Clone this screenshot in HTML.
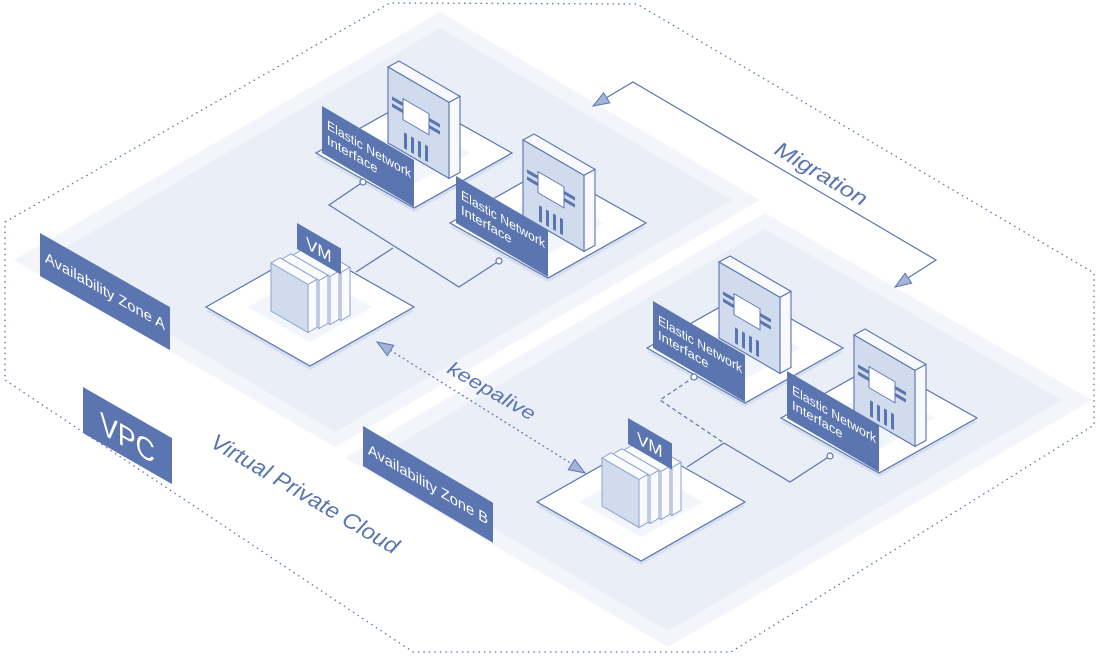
<!DOCTYPE html>
<html><head><meta charset="utf-8"><style>
html,body{margin:0;padding:0;background:#fff;}
svg{display:block;}
text{font-family:"Liberation Sans",sans-serif;}
</style></head><body>
<svg width="1100" height="660" viewBox="0 0 1100 660" xmlns="http://www.w3.org/2000/svg">
<polygon points="14,260 440,12 760,200 335,447" fill="#f3f5fa"/>
<polygon points="44,260 440,28 732,200 335,432" fill="#e9eef7"/>
<polygon points="345,458 765,213 1092,400 668,647" fill="#f3f5fa"/>
<polygon points="375,458 765,229 1062,400 668,631" fill="#e9eef7"/>
<polygon points="5,222 390,3 637,4 1094,273 1094,425 731,652 413,652 5,380" fill="none" stroke="#5a75b0" stroke-width="1.3" stroke-dasharray="1.5 4"/>

<g fill="none" stroke="#5a75b0" stroke-width="1.2">
<path d="M363,182 L329,205 L459,287 L499,261"/>
<path d="M356,272 L393,248"/>
<path d="M694,377 L660,400 L724,443" stroke-dasharray="4 3"/>
<path d="M724,443 L790,482 L830,456"/>
<path d="M687,467 L724,443"/>
</g>

<polygon points="310,252 414,311 310,370 206,311" fill="#d5dff0"/>
<polygon points="310,248 414,307 310,366 206,307" fill="#fff" stroke="#5a75b0" stroke-width="1.2"/>
<polygon points="310,272 372,307 310,342 248,307" fill="#f2f5fa"/>
<polygon points="414,102 512,157 414,212 316,157" fill="#d5dff0"/>
<polygon points="414,98 512,153 414,208 316,153" fill="#fff" stroke="#5a75b0" stroke-width="1.2"/>
<polygon points="414,122 470,153 414,184 358,153" fill="#f2f5fa"/>
<polygon points="548,172 646,227 548,282 450,227" fill="#d5dff0"/>
<polygon points="548,168 646,223 548,278 450,223" fill="#fff" stroke="#5a75b0" stroke-width="1.2"/>
<polygon points="548,192 604,223 548,254 492,223" fill="#f2f5fa"/>

<g transform="translate(388,67)" stroke-width="1.1">
<polygon points="0,0 11,-6 72,29.4 61,35.4" fill="#f7f9fc" stroke="#5a75b0"/>
<polygon points="61,35.4 72,29.4 72,105.4 61,111.4" fill="#f7f9fc" stroke="#5a75b0"/>
<polygon points="0,0 61,35.4 61,111.4 0,76" fill="#d0dbee" stroke="#5a75b0"/>
<g transform="matrix(1,0.58,0,1,0,0)" fill="#5a75b0">
<rect x="15" y="23" width="26" height="21" fill="#fff" stroke="#5a75b0" stroke-width="1"/>
<rect x="4" y="27" width="11" height="3.5"/><rect x="4" y="34" width="11" height="3.5"/>
<rect x="41" y="27" width="11" height="3.5"/><rect x="41" y="34" width="11" height="3.5"/>
<rect x="16" y="56" width="3" height="16"/><rect x="23" y="56" width="3" height="16"/><rect x="30" y="56" width="3" height="16"/><rect x="37" y="56" width="3" height="16"/>
</g></g>
<g transform="translate(523,140)" stroke-width="1.1">
<polygon points="0,0 11,-6 72,29.4 61,35.4" fill="#f7f9fc" stroke="#5a75b0"/>
<polygon points="61,35.4 72,29.4 72,105.4 61,111.4" fill="#f7f9fc" stroke="#5a75b0"/>
<polygon points="0,0 61,35.4 61,111.4 0,76" fill="#d0dbee" stroke="#5a75b0"/>
<g transform="matrix(1,0.58,0,1,0,0)" fill="#5a75b0">
<rect x="15" y="23" width="26" height="21" fill="#fff" stroke="#5a75b0" stroke-width="1"/>
<rect x="4" y="27" width="11" height="3.5"/><rect x="4" y="34" width="11" height="3.5"/>
<rect x="41" y="27" width="11" height="3.5"/><rect x="41" y="34" width="11" height="3.5"/>
<rect x="16" y="56" width="3" height="16"/><rect x="23" y="56" width="3" height="16"/><rect x="30" y="56" width="3" height="16"/><rect x="37" y="56" width="3" height="16"/>
</g></g>

<g transform="translate(322,106) matrix(1,0.587,0,1,0,0)">
<rect x="0" y="0" width="92" height="47" fill="#5a75b0"/>
<text x="5" y="20" font-size="13" fill="#fff" textLength="84" lengthAdjust="spacingAndGlyphs">Elastic Network</text>
<text x="5" y="35" font-size="13" fill="#fff">Interface</text>
</g>
<g transform="translate(456,176) matrix(1,0.587,0,1,0,0)">
<rect x="0" y="0" width="92" height="47" fill="#5a75b0"/>
<text x="5" y="20" font-size="13" fill="#fff" textLength="84" lengthAdjust="spacingAndGlyphs">Elastic Network</text>
<text x="5" y="35" font-size="13" fill="#fff">Interface</text>
</g>
<circle cx="363" cy="182" r="3" fill="#fff" stroke="#5a75b0" stroke-width="1.2"/>
<circle cx="499" cy="261" r="3" fill="#fff" stroke="#5a75b0" stroke-width="1.2"/>

<g transform="translate(271,263)" stroke="#8fa3cf" stroke-width="1">
<g transform="translate(33,-12)"><polygon points="0,0 9,-5.2 46,16.3 37,21.5" fill="#fafbfd"/><polygon points="37,21.5 46,16.3 46,64.3 37,69.5" fill="#fafbfd"/><polygon points="0,0 37,21.5 37,69.5 0,48" fill="#eef2f9"/></g>
<g transform="translate(22,-8)"><polygon points="0,0 9,-5.2 46,16.3 37,21.5" fill="#fafbfd"/><polygon points="37,21.5 46,16.3 46,64.3 37,69.5" fill="#fafbfd"/><polygon points="0,0 37,21.5 37,69.5 0,48" fill="#eef2f9"/></g>
<g transform="translate(11,-4)"><polygon points="0,0 9,-5.2 46,16.3 37,21.5" fill="#fafbfd"/><polygon points="37,21.5 46,16.3 46,64.3 37,69.5" fill="#fafbfd"/><polygon points="0,0 37,21.5 37,69.5 0,48" fill="#eef2f9"/></g>
<g><polygon points="0,0 9,-5.2 46,16.3 37,21.5" fill="#fafbfd"/><polygon points="37,21.5 46,16.3 46,64.3 37,69.5" fill="#fafbfd"/><polygon points="0,0 37,21.5 37,69.5 0,48" fill="#d0dbee"/></g>
</g>
<g transform="translate(297,223) matrix(1,0.58,0,1,0,0)">
<rect x="0" y="0" width="44" height="26" fill="#5a75b0"/>
<text x="9" y="20" font-size="17" fill="#fff">VM</text>
</g>

<polygon points="641,447 745,506 641,565 537,506" fill="#d5dff0"/>
<polygon points="641,443 745,502 641,561 537,502" fill="#fff" stroke="#5a75b0" stroke-width="1.2"/>
<polygon points="641,467 703,502 641,537 579,502" fill="#f2f5fa"/>
<polygon points="745,297 843,352 745,407 647,352" fill="#d5dff0"/>
<polygon points="745,293 843,348 745,403 647,348" fill="#fff" stroke="#5a75b0" stroke-width="1.2"/>
<polygon points="745,317 801,348 745,379 689,348" fill="#f2f5fa"/>
<polygon points="879,367 977,422 879,477 781,422" fill="#d5dff0"/>
<polygon points="879,363 977,418 879,473 781,418" fill="#fff" stroke="#5a75b0" stroke-width="1.2"/>
<polygon points="879,387 935,418 879,449 823,418" fill="#f2f5fa"/>

<g transform="translate(719,262)" stroke-width="1.1">
<polygon points="0,0 11,-6 72,29.4 61,35.4" fill="#f7f9fc" stroke="#5a75b0"/>
<polygon points="61,35.4 72,29.4 72,105.4 61,111.4" fill="#f7f9fc" stroke="#5a75b0"/>
<polygon points="0,0 61,35.4 61,111.4 0,76" fill="#d0dbee" stroke="#5a75b0"/>
<g transform="matrix(1,0.58,0,1,0,0)" fill="#5a75b0">
<rect x="15" y="23" width="26" height="21" fill="#fff" stroke="#5a75b0" stroke-width="1"/>
<rect x="4" y="27" width="11" height="3.5"/><rect x="4" y="34" width="11" height="3.5"/>
<rect x="41" y="27" width="11" height="3.5"/><rect x="41" y="34" width="11" height="3.5"/>
<rect x="16" y="56" width="3" height="16"/><rect x="23" y="56" width="3" height="16"/><rect x="30" y="56" width="3" height="16"/><rect x="37" y="56" width="3" height="16"/>
</g></g>
<g transform="translate(854,335)" stroke-width="1.1">
<polygon points="0,0 11,-6 72,29.4 61,35.4" fill="#f7f9fc" stroke="#5a75b0"/>
<polygon points="61,35.4 72,29.4 72,105.4 61,111.4" fill="#f7f9fc" stroke="#5a75b0"/>
<polygon points="0,0 61,35.4 61,111.4 0,76" fill="#d0dbee" stroke="#5a75b0"/>
<g transform="matrix(1,0.58,0,1,0,0)" fill="#5a75b0">
<rect x="15" y="23" width="26" height="21" fill="#fff" stroke="#5a75b0" stroke-width="1"/>
<rect x="4" y="27" width="11" height="3.5"/><rect x="4" y="34" width="11" height="3.5"/>
<rect x="41" y="27" width="11" height="3.5"/><rect x="41" y="34" width="11" height="3.5"/>
<rect x="16" y="56" width="3" height="16"/><rect x="23" y="56" width="3" height="16"/><rect x="30" y="56" width="3" height="16"/><rect x="37" y="56" width="3" height="16"/>
</g></g>

<g transform="translate(653,301) matrix(1,0.587,0,1,0,0)">
<rect x="0" y="0" width="92" height="47" fill="#5a75b0"/>
<text x="5" y="20" font-size="13" fill="#fff" textLength="84" lengthAdjust="spacingAndGlyphs">Elastic Network</text>
<text x="5" y="35" font-size="13" fill="#fff">Interface</text>
</g>
<g transform="translate(787,371) matrix(1,0.587,0,1,0,0)">
<rect x="0" y="0" width="92" height="47" fill="#5a75b0"/>
<text x="5" y="20" font-size="13" fill="#fff" textLength="84" lengthAdjust="spacingAndGlyphs">Elastic Network</text>
<text x="5" y="35" font-size="13" fill="#fff">Interface</text>
</g>
<circle cx="694" cy="377" r="3" fill="#fff" stroke="#5a75b0" stroke-width="1.2"/>
<circle cx="830" cy="456" r="3" fill="#fff" stroke="#5a75b0" stroke-width="1.2"/>

<g transform="translate(602,458)" stroke="#8fa3cf" stroke-width="1">
<g transform="translate(33,-12)"><polygon points="0,0 9,-5.2 46,16.3 37,21.5" fill="#fafbfd"/><polygon points="37,21.5 46,16.3 46,64.3 37,69.5" fill="#fafbfd"/><polygon points="0,0 37,21.5 37,69.5 0,48" fill="#eef2f9"/></g>
<g transform="translate(22,-8)"><polygon points="0,0 9,-5.2 46,16.3 37,21.5" fill="#fafbfd"/><polygon points="37,21.5 46,16.3 46,64.3 37,69.5" fill="#fafbfd"/><polygon points="0,0 37,21.5 37,69.5 0,48" fill="#eef2f9"/></g>
<g transform="translate(11,-4)"><polygon points="0,0 9,-5.2 46,16.3 37,21.5" fill="#fafbfd"/><polygon points="37,21.5 46,16.3 46,64.3 37,69.5" fill="#fafbfd"/><polygon points="0,0 37,21.5 37,69.5 0,48" fill="#eef2f9"/></g>
<g><polygon points="0,0 9,-5.2 46,16.3 37,21.5" fill="#fafbfd"/><polygon points="37,21.5 46,16.3 46,64.3 37,69.5" fill="#fafbfd"/><polygon points="0,0 37,21.5 37,69.5 0,48" fill="#d0dbee"/></g>
</g>
<g transform="translate(628,418) matrix(1,0.58,0,1,0,0)">
<rect x="0" y="0" width="44" height="26" fill="#5a75b0"/>
<text x="9" y="20" font-size="17" fill="#fff">VM</text>
</g>

<g transform="translate(40,233) matrix(1,0.57,0,1,0,0)">
<rect x="0" y="0" width="130" height="43" fill="#5a75b0"/>
<text x="5" y="26" font-size="15" fill="#fff" textLength="120" lengthAdjust="spacingAndGlyphs">Availability Zone A</text>
</g>
<g transform="translate(363,426) matrix(1,0.59,0,1,0,0)">
<rect x="0" y="0" width="130" height="40" fill="#5a75b0"/>
<text x="5" y="25" font-size="15" fill="#fff" textLength="120" lengthAdjust="spacingAndGlyphs">Availability Zone B</text>
</g>
<g transform="translate(83,387) matrix(1,0.575,0,1,0,0)">
<rect x="0" y="0" width="89" height="46" fill="#5a75b0"/>
<text x="17" y="36" font-size="31" fill="#fff" textLength="55" lengthAdjust="spacingAndGlyphs">VPC</text>
</g>

<path d="M390,350 L572,464" fill="none" stroke="#5a75b0" stroke-width="1.2" stroke-dasharray="2 3"/>
<polygon points="377,342 393.7,345.4 387.3,355.6" fill="#a3b3d6" stroke="#5a75b0" stroke-width="1"/>
<polygon points="585,473 574.7,459.4 568.3,469.6" fill="#a3b3d6" stroke="#5a75b0" stroke-width="1"/>
<path d="M606,98 L633,82 L936,260 L908,278" fill="none" stroke="#5a75b0" stroke-width="1.2"/>
<polygon points="593,106 609.8,102.9 603.6,92.7" fill="#a3b3d6" stroke="#5a75b0" stroke-width="1"/>
<polygon points="895,287 911.7,283.2 905.1,273.2" fill="#a3b3d6" stroke="#5a75b0" stroke-width="1"/>

<text transform="translate(773,153) rotate(31)" font-size="21" font-style="italic" fill="#5a75b0" textLength="104" lengthAdjust="spacingAndGlyphs">Migration</text>
<text transform="translate(446,372) rotate(30)" font-size="19" font-style="italic" fill="#5a75b0" textLength="98" lengthAdjust="spacingAndGlyphs">keepalive</text>
<text transform="translate(209,446) rotate(30.5)" font-size="22" font-style="italic" fill="#5a75b0" textLength="214" lengthAdjust="spacingAndGlyphs">Virtual Private Cloud</text>
</svg>
</body></html>
